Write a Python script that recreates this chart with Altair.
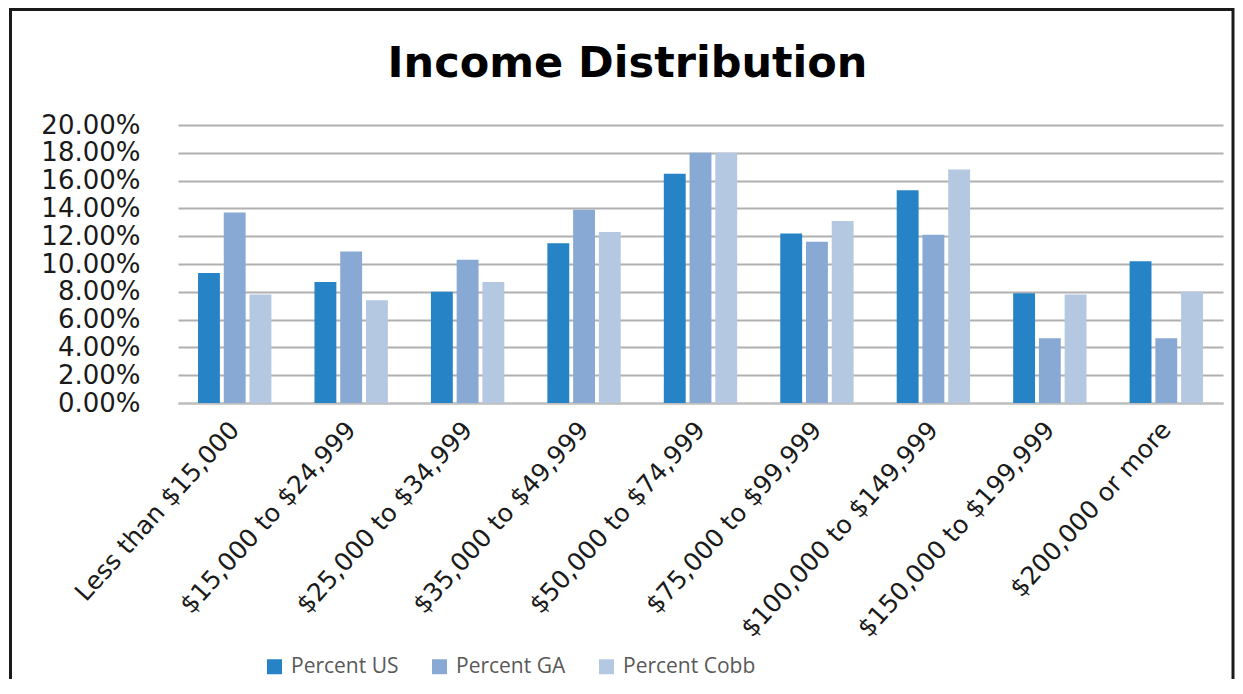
import altair as alt
import pandas as pd

categories = [
    "Less than $15,000",
    "$15,000 to $24,999",
    "$25,000 to $34,999",
    "$35,000 to $49,999",
    "$50,000 to $74,999",
    "$75,000 to $99,999",
    "$100,000 to $149,999",
    "$150,000 to $199,999",
    "$200,000 or more",
]
series = ["Percent US", "Percent GA", "Percent Cobb"]
percent_us = [9.35, 8.7, 8.0, 11.5, 16.5, 12.2, 15.3, 7.9, 10.2]
percent_ga = [13.7, 10.9, 10.3, 13.9, 18.0, 11.6, 12.1, 4.65, 4.65]
percent_cobb = [7.8, 7.4, 8.7, 12.3, 18.0, 13.1, 16.8, 7.8, 8.0]
y_ticks = [0.0, 0.02, 0.04, 0.06, 0.08, 0.10, 0.12, 0.14, 0.16, 0.18, 0.20]
colors = ["#2683C6", "#88A9D4", "#B4C8E2"]

rows = []
for name, vals in zip(series, [percent_us, percent_ga, percent_cobb]):
    for cat, v in zip(categories, vals):
        rows.append({"Income": cat, "Series": name, "Value": v / 100.0})
df = pd.DataFrame(rows)

bars = alt.Chart(df).mark_bar().encode(
    x=alt.X(
        "Income:N",
        sort=categories,
        scale=alt.Scale(paddingInner=0.37, paddingOuter=0.172),
        axis=alt.Axis(
            title=None,
            labelAngle=-48,
            labelAlign="right",
            labelBaseline="middle",
            labelPadding=22,
            ticks=False,
            domainColor="#BFBFBF",
            domainWidth=2,
            labelFont="DejaVu Sans",
            labelFontSize=25,
            labelColor="#1a1a1a",
            labelLimit=0,
        ),
    ),
    xOffset=alt.XOffset("Series:N", sort=series, scale=alt.Scale(paddingInner=0.15)),
    y=alt.Y(
        "Value:Q",
        scale=alt.Scale(domain=[0, 0.2], nice=False),
        axis=alt.Axis(
            title=None,
            format=".2%",
            values=y_ticks,
            ticks=False,
            domain=False,
            labelPadding=38,
            gridColor="#B0B0B0",
            gridWidth=2,
            labelFont="DejaVu Sans",
            labelFontSize=26,
            labelColor="#1a1a1a",
        ),
    ),
    color=alt.Color(
        "Series:N",
        sort=series,
        scale=alt.Scale(domain=series, range=colors),
        legend=alt.Legend(
            title=None,
            orient="none",
            legendX=86,
            legendY=531,
            direction="horizontal",
            symbolType="square",
            symbolSize=225,
            symbolStrokeWidth=0,
            labelFont="Open Sans",
            labelFontSize=21,
            labelColor="#595959",
            labelOffset=6,
            columnPadding=30,
        ),
    ),
)

frame = alt.Chart(alt.Data(values=[{}])).mark_rect(
    fillOpacity=0, stroke="#1a1a1a", strokeWidth=3
).encode(
    x=alt.value(-167.5), x2=alt.value(1055), y=alt.value(-115.5), y2=alt.value(700)
)

chart = alt.layer(bars, frame).properties(
    width=1045,
    height=278,
    title=alt.TitleParams(
        "Income Distribution",
        font="DejaVu Sans",
        fontSize=43,
        fontWeight="bold",
        color="black",
        anchor="middle",
        dx=-73,
        dy=82,
    ),
    autosize=alt.AutoSizeParams(type="none"),
    padding={"left": 170, "top": 117, "right": 12, "bottom": 276},
).configure_view(strokeWidth=0)

chart.save("out.html", embed_options={"renderer": "svg", "actions": False})
